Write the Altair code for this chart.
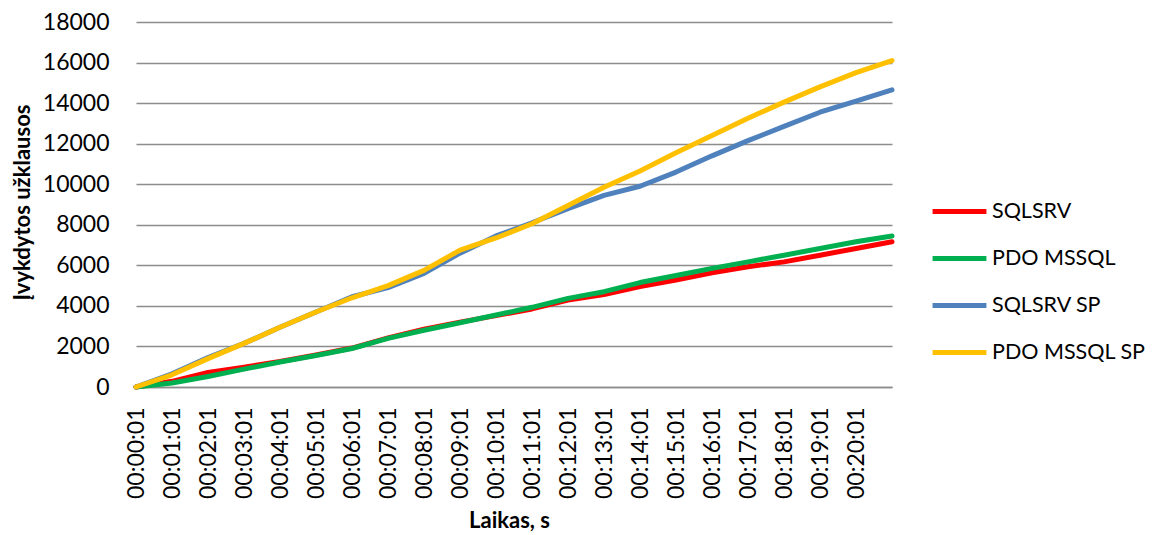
import altair as alt
import pandas as pd

# Elapsed time in whole minutes from the first sample (00:00:01 = minute 0)
minutes = list(range(22))
tick_labels = [f"00:{m:02d}:01" for m in range(21)]

series_names = ["SQLSRV", "PDO MSSQL", "SQLSRV SP", "PDO MSSQL SP"]
series_colors = ["#FF0000", "#00B050", "#4F81BD", "#FFC000"]

# Cumulative number of executed queries, sampled once per minute
sqlsrv = [0, 280, 720, 980, 1260, 1580, 1920, 2420, 2850, 3200, 3520, 3850,
          4290, 4560, 4950, 5280, 5630, 5930, 6170, 6500, 6830, 7160]
pdo_mssql = [0, 200, 520, 880, 1230, 1550, 1900, 2400, 2800, 3170, 3550, 3930,
             4370, 4700, 5150, 5500, 5850, 6170, 6500, 6830, 7160, 7450]
sqlsrv_sp = [0, 650, 1450, 2150, 2950, 3700, 4450, 4900, 5600, 6600, 7450, 8100,
             8800, 9450, 9900, 10600, 11400, 12150, 12850, 13550, 14100, 14650]
pdo_mssql_sp = [0, 600, 1400, 2150, 2950, 3700, 4400, 5000, 5750, 6750, 7350, 8050,
                8950, 9850, 10650, 11550, 12400, 13250, 14050, 14800, 15500, 16100]

rows = []
for name, values in zip(series_names, [sqlsrv, pdo_mssql, sqlsrv_sp, pdo_mssql_sp]):
    for m, v in zip(minutes, values):
        rows.append({"minute": m, "queries": v, "series": name})
df = pd.DataFrame(rows)

label_array = "[" + ",".join(f"'{t}'" for t in tick_labels) + "]"

FONT = "Lato"
GRID = "#8C8C8C"

chart = alt.Chart(df).mark_line(strokeWidth=5, strokeCap="round", strokeJoin="round").encode(
    x=alt.X(
        "minute:Q",
        scale=alt.Scale(domain=[0, 21], nice=False, zero=False),
        axis=alt.Axis(
            values=list(range(21)),
            labelExpr=label_array + "[datum.value]",
            labelAngle=270,
            labelAlign="right",
            labelBaseline="middle",
            labelPadding=20,
            labelFontSize=23,
            labelFont=FONT,
            labelColor="#000000",
            labelOverlap=False,
            labelFlush=False,
            ticks=False,
            grid=False,
            domain=True,
            domainColor=GRID,
            domainWidth=1.5,
            title="Laikas, s",
            titleFont=FONT,
            titleFontSize=22,
            titleFontWeight="bold",
            titleColor="#000000",
            titleX=373,
            titleY=133,
            titleBaseline="middle",
        ),
    ),
    y=alt.Y(
        "queries:Q",
        scale=alt.Scale(domain=[0, 18000], nice=False),
        axis=alt.Axis(
            values=list(range(0, 18001, 2000)),
            format="d",
            labelFontSize=23,
            labelFont=FONT,
            labelColor="#000000",
            labelPadding=27,
            ticks=False,
            domain=False,
            grid=True,
            gridColor=GRID,
            gridWidth=1.5,
            title="Įvykdytos užklausos",
            titleFont=FONT,
            titleFontSize=22,
            titleFontWeight="bold",
            titleColor="#000000",
            titleAngle=270,
            titleX=-114,
            titleY=180,
            titleBaseline="middle",
        ),
    ),
    color=alt.Color(
        "series:N",
        scale=alt.Scale(domain=series_names, range=series_colors),
        sort=series_names,
        legend=alt.Legend(
            title=None,
            orient="none",
            legendX=794,
            legendY=160,
            symbolType="stroke",
            symbolSize=2900,
            symbolStrokeWidth=5,
            labelFont=FONT,
            labelFontSize=21.5,
            labelColor="#000000",
            labelOffset=3,
            labelLimit=0,
            rowPadding=7,
        ),
    ),
).properties(
    width=756,
    height=365,
    autosize=alt.AutoSizeParams(type="none"),
    padding={"left": 136, "top": 22, "right": 262, "bottom": 148},
).configure_view(stroke=None)

chart.save("out.html", embed_options={"renderer": "svg", "actions": False})
